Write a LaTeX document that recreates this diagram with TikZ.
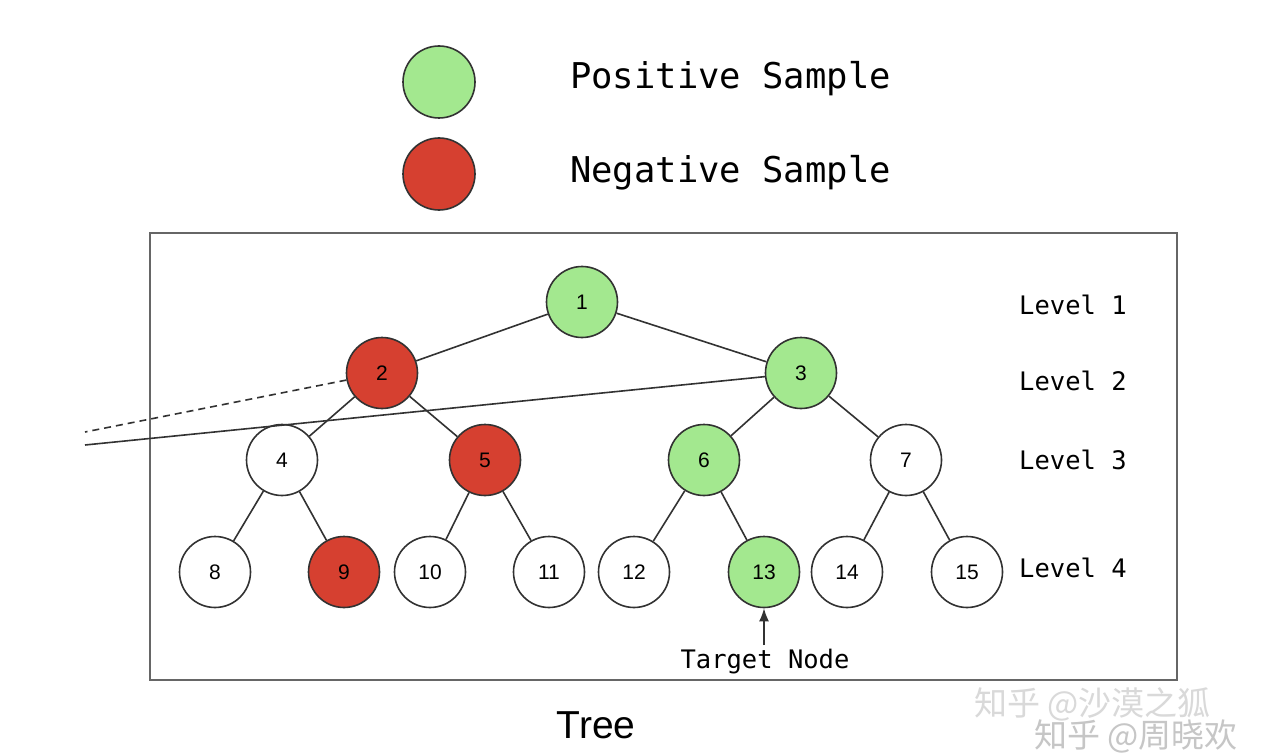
\documentclass[tikz,border=0pt]{standalone}
\usepackage{fontspec}
\setmainfont{Liberation Sans}
\newfontfamily\monof{DejaVu Sans Mono}
\newfontfamily\cjkf{Noto Sans CJK SC}
\usetikzlibrary{arrows.meta}
\definecolor{posgreen}{RGB}{163,232,143}
\definecolor{negred}{RGB}{214,64,48}
\definecolor{edgegray}{RGB}{50,50,50}
\tikzset{
  tn/.style={circle, draw=edgegray, line width=1.6pt, minimum size=71pt, inner sep=0pt, fill=white, font=\fontsize{21}{21}\selectfont},
  posnode/.style={tn, fill=posgreen},
  negnode/.style={tn, fill=negred},
  edge/.style={draw=edgegray, line width=1.6pt},
  lvl/.style={anchor=west, font=\monof\fontsize{25.5}{26}\selectfont, inner sep=0pt},
  legtext/.style={anchor=west, font=\monof\fontsize{35.5}{36}\selectfont, inner sep=0pt},
  wm/.style={anchor=west, font=\cjkf\fontsize{33}{34}\selectfont, inner sep=0pt}
}
\begin{document}
\begin{tikzpicture}[x=1pt,y=-1pt]
\useasboundingbox[fill=white] (0,0) rectangle (1282,754);
% legend
\node[posnode, minimum size=72pt] (lp) at (439,82) {};
\node[negnode, minimum size=72pt] (ln) at (439,174) {};
\node[legtext] (lpt) at (570,79) {Positive Sample};
\node[legtext] (lnt) at (570,173) {Negative Sample};
% frame
\draw[draw=gray!80!black, line width=2pt] (150,233) rectangle (1177,680);
% nodes
\node[posnode] (n1) at (582,302) {1};
\node[negnode] (n2) at (382,373) {2};
\node[posnode] (n3) at (801,373) {3};
\node[tn]  (n4) at (282,460) {4};
\node[negnode] (n5) at (485,460) {5};
\node[posnode] (n6) at (704,460) {6};
\node[tn]  (n7) at (906,460) {7};
\node[tn]  (n8) at (215,572) {8};
\node[negnode] (n9) at (344,572) {9};
\node[tn]  (n10) at (430,572) {10};
\node[tn]  (n11) at (549,572) {11};
\node[tn]  (n12) at (634,572) {12};
\node[posnode] (n13) at (764,572) {13};
\node[tn]  (n14) at (847,572) {14};
\node[tn]  (n15) at (967,572) {15};
% edges
\draw[edge] (n1) -- (n2);
\draw[edge] (n1) -- (n3);
\draw[edge] (n2) -- (n4);
\draw[edge] (n2) -- (n5);
\draw[edge] (n3) -- (n6);
\draw[edge] (n3) -- (n7);
\draw[edge] (n4) -- (n8);
\draw[edge] (n4) -- (n9);
\draw[edge] (n5) -- (n10);
\draw[edge] (n5) -- (n11);
\draw[edge] (n6) -- (n12);
\draw[edge] (n6) -- (n13);
\draw[edge] (n7) -- (n14);
\draw[edge] (n7) -- (n15);
% long lines to the left
\coordinate (dl) at (85,432);
\coordinate (sl) at (85,445);
\draw[edge, dash pattern=on 7pt off 5pt] (n2) -- (dl);
\draw[edge] (n3) -- (sl);
% level labels
\node[lvl] (l1) at (1019,305) {Level 1};
\node[lvl] (l2) at (1019,381) {Level 2};
\node[lvl] (l3) at (1019,460) {Level 3};
\node[lvl] (l4) at (1019,568) {Level 4};
% target
\node[anchor=center, font=\monof\fontsize{25.5}{26}\selectfont, inner sep=0pt] (tgt) at (765,662) {Target Node};
\coordinate (ta) at (764,645);
\draw[edge, -{Latex[length=13pt,width=10pt]}] (ta) -- (n13.south);
% title
\node[font=\fontsize{39}{40}\selectfont, inner sep=0pt] (tree) at (596,725) {Tree};
% watermarks
\node[wm, text=gray!30] (wm1) at (974,704) {知乎 @沙漠之狐};
\node[wm, text=gray!45] (wm2) at (1034,736) {知乎 @周晓欢};
\end{tikzpicture}
\end{document}
